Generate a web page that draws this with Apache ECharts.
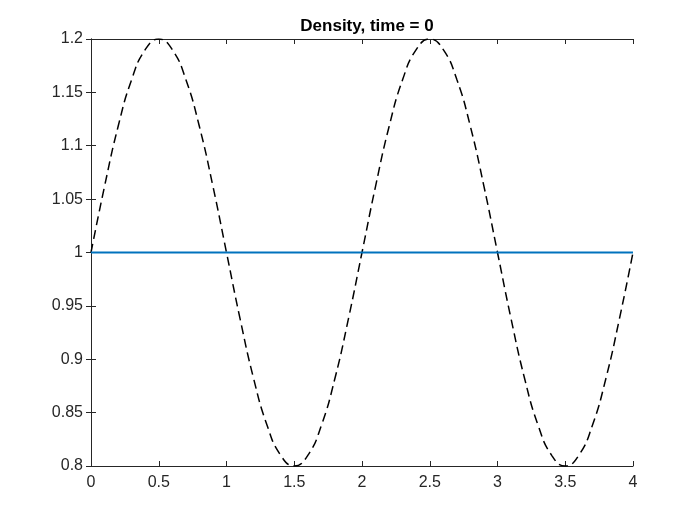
<!DOCTYPE html>
<html>
<head>
<meta charset="utf-8">
<script src="https://cdn.jsdelivr.net/npm/echarts@6/dist/echarts.min.js"></script>
<style>html,body{margin:0;padding:0;background:#fff;}#c{width:700px;height:525px;}</style>
</head>
<body>
<div id="c"></div>
<script>
var xValues = [0,0.1,0.2,0.3,0.4,0.5,0.6,0.7,0.8,0.9,1.0,1.1,1.2,1.3,1.4,1.5,1.6,1.7,1.8,1.9,2.0,
  2.1,2.2,2.3,2.4,2.5,2.6,2.7,2.8,2.9,3.0,3.1,3.2,3.3,3.4,3.5,3.6,3.7,3.8,3.9,4.0];
var densityInitial = [1.000,1.062,1.118,1.162,1.190,1.200,1.190,1.162,1.118,1.062,1.000,
  0.938,0.882,0.838,0.810,0.800,0.810,0.838,0.882,0.938,1.000,
  1.062,1.118,1.162,1.190,1.200,1.190,1.162,1.118,1.062,1.000,
  0.938,0.882,0.838,0.810,0.800,0.810,0.838,0.882,0.938,1.000];
var densityCurrent = [1,1,1,1,1,1,1,1,1,1,1,1,1,1,1,1,1,1,1,1,1,1,1,1,1,1,1,1,1,1,1,1,1,1,1,1,1,1,1,1,1];
var titleText = 'Density, time = 0';

var chart = echarts.init(document.getElementById('c'));
var font = 'Liberation Sans, Arial, Helvetica, sans-serif';
function pairs(ys){ return xValues.map(function(x,i){return [x, ys[i]];}); }
var axLine = {show:true, lineStyle:{color:'#262626', width:1}};
var tickIn = {show:true, inside:true, length:5, lineStyle:{color:'#262626', width:1}};
var yLabelFmt = function(v){ return String(parseFloat(v.toFixed(2))); };
chart.setOption({
  animation:false,
  backgroundColor:'#fff',
  title:{text:titleText, left:362, textAlign:'center', top:13,
    textStyle:{fontFamily:font, fontSize:17, fontWeight:'bold', color:'#000'}},
  grid:{left:91, right:67, top:39, bottom:59, containLabel:false},
  xAxis:[
    {type:'value', min:0, max:4, interval:0.5, position:'bottom',
     axisLine:axLine, axisTick:tickIn, splitLine:{show:false},
     axisLabel:{fontFamily:font, fontSize:16, color:'#262626', margin:9,
       formatter:function(v){return String(v);}}},
    {type:'value', min:0, max:4, interval:0.5, position:'top',
     axisLine:axLine, axisTick:tickIn, splitLine:{show:false}, axisLabel:{show:false}}
  ],
  yAxis:[
    {type:'value', min:0.8, max:1.2, interval:0.05, position:'left',
     axisLine:axLine, axisTick:tickIn, splitLine:{show:false},
     axisLabel:{fontFamily:font, fontSize:16, color:'#262626', margin:8, formatter:yLabelFmt}},
    {type:'value', min:0.8, max:1.2, interval:0.05, position:'right',
     axisLine:axLine, axisTick:tickIn, splitLine:{show:false}, axisLabel:{show:false}}
  ],
  series:[
    {type:'line', data:pairs(densityInitial), smooth:0.5, showSymbol:false,
     lineStyle:{color:'#000', width:1.5, type:[9,5]}, z:2},
    {type:'line', data:pairs(densityCurrent), showSymbol:false,
     lineStyle:{color:'#0072BD', width:2}, z:3}
  ]
});
</script>
</body>
</html>
